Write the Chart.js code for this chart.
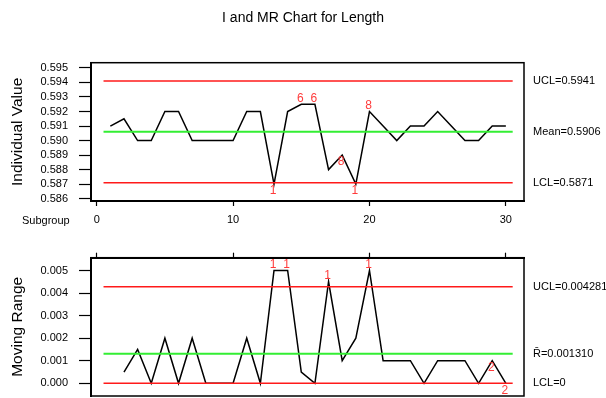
<!DOCTYPE html>
<html><head><meta charset="utf-8">
<script src="https://cdn.jsdelivr.net/npm/chart.js@4/dist/chart.umd.min.js"></script>
<style>
html,body{margin:0;padding:0;background:#fff;}
#wrap{position:relative;width:606px;height:398px;background:#fff;}
canvas{position:absolute;left:0;top:0;}
</style></head><body>
<div id="wrap"><canvas id="c1" width="606" height="398"></canvas><canvas id="c2" width="606" height="398"></canvas></div>
<script>
// ---- data ----
const subgroups = [1,2,3,4,5,6,7,8,9,10,11,12,13,14,15,16,17,18,19,20,21,22,23,24,25,26,27,28,29,30];
const individualValues = [0.5910,0.5915,0.5900,0.5900,0.5920,0.5920,0.5900,0.5900,0.5900,0.5900,
                          0.5920,0.5920,0.5870,0.5920,0.5925,0.5925,0.5880,0.5890,0.5870,0.5920,
                          0.5910,0.5900,0.5910,0.5910,0.5920,0.5910,0.5900,0.5900,0.5910,0.5910];
const movingRanges = [null,0.0005,0.0015,0,0.002,0,0.002,0,0,0,
                      0.002,0,0.005,0.005,0.0005,0,0.0045,0.001,0.002,0.005,
                      0.001,0.001,0.001,0,0.001,0.001,0.001,0,0.001,0];
const iLimitValues = [0.5941, 0.5906, 0.5871];
const iLimitLabels = ['UCL=0.5941', 'Mean=0.5906', 'LCL=0.5871'];
const mrLimitValues = [0.004281, 0.001310, 0];
const mrLimitLabels = ['UCL=0.004281', 'R\u0304=0.001310', 'LCL=0'];
const limitSpan = [0.5, 30.5];
const iTicks = [0.586,0.587,0.588,0.589,0.590,0.591,0.592,0.593,0.594,0.595];
const mrTicks = [0,0.001,0.002,0.003,0.004,0.005];
const subgroupTicks = [0,10,20,30];
const iFlagSubgroups = [13,15,16,18,19,20];
const iFlagTexts = ['1','6','6','8','1','8'];
const iFlagSides = ['below','above','above','below','below','above'];
const mrFlagSubgroups = [13,14,17,20,29,30];
const mrFlagTexts = ['1','1','1','1','2','2'];
const mrFlagSides = ['above','above','above','above','below','below'];

// ---- styling ----
const FONT = "'Liberation Sans', Arial, sans-serif";
const RED = '#ff1a1a', GREEN = '#33ee33', FLAG = '#ff3b3b';
const limitColors = [RED, GREEN, RED];

function limitDatasets(vals){
  return vals.map((v,i)=>({
    data: limitSpan.map(x=>({x:x, y:v})),
    showLine:true, borderColor:limitColors[i], borderWidth:(i===1?2:1.6), pointRadius:0
  }));
}
function seriesData(vals){
  return subgroups.map((s,i)=>({x:s, y:vals[i]})).filter(p=>p.y!==null);
}
function explicitTicks(list){ return s => { s.ticks = list.map(v=>({value:v})); }; }
function zeroPad(s){ s.paddingTop=0; s.paddingBottom=0; s.paddingLeft=0; s.paddingRight=0; }

function deco(vals, limVals, limLabels, fIdx, fTxt, fSide, extra){
  return { id:'deco', afterDraw(chart){
    const {ctx, chartArea:a} = chart; const x = chart.scales.x, y = chart.scales.y;
    ctx.save();
    ctx.strokeStyle = '#000'; ctx.lineWidth = 1.5;
    ctx.strokeRect(a.left, a.top, a.right-a.left, a.bottom-a.top);
    ctx.fillStyle = '#000'; ctx.font = '11px ' + FONT; ctx.textAlign = 'left'; ctx.textBaseline = 'middle';
    limVals.forEach((v,i)=> ctx.fillText(limLabels[i], a.right + 9, y.getPixelForValue(v)));
    ctx.fillStyle = FLAG; ctx.font = '12px ' + FONT; ctx.textAlign = 'center';
    fIdx.forEach((n,i)=>{
      const px = x.getPixelForValue(n) - 1;
      const py = y.getPixelForValue(vals[n-1]) + (fSide[i]==='above' ? -6 : 7);
      ctx.fillText(fTxt[i], px, py);
    });
    if (extra) extra(ctx, a);
    ctx.restore();
  }};
}

function baseScales(yMin, yMax, yTicks, yTitle, xPos){
  return {
    x: { type:'linear', position:xPos, min:-0.418, max:31.33,
         afterBuildTicks: explicitTicks(subgroupTicks),
         grid:{drawOnChartArea:false, drawTicks:true, tickLength:5, tickColor:'#000', tickWidth:1.2},
         border:{display:true, color:'#000', width:2},
         ticks:{display: xPos==='bottom', font:{family:FONT, size:11}, color:'#000', padding:7, maxRotation:0, autoSkip:false}
    },
    y: { type:'linear', min:yMin, max:yMax,
         afterBuildTicks: explicitTicks(yTicks),
         afterFit: s=>{ s.width = 91; zeroPad(s); },
         grid:{drawOnChartArea:false, drawTicks:true, tickLength:12, tickColor:'#000', tickWidth:1.2},
         border:{display:true, color:'#000', width:2},
         ticks:{font:{family:FONT, size:11}, color:'#000', padding:11, autoSkip:false, callback:v=>Number(v).toFixed(3)},
         title:{display:true, text:yTitle, font:{family:FONT, size:15.5}, color:'#000', padding:{top:8, bottom:0}}
    }
  };
}

// ---- Individual chart ----
const s1 = baseScales(0.58584, 0.59536, iTicks, 'Individual Value', 'bottom');
s1.x.afterFit = s=>{ s.height = 197; zeroPad(s); };
new Chart(document.getElementById('c1'), {
  type:'scatter',
  data:{ datasets: limitDatasets(iLimitValues).concat([{
    data: seriesData(individualValues), showLine:true, borderColor:'#000', borderWidth:1.5, pointRadius:0 }]) },
  options:{ responsive:false, animation:false, devicePixelRatio:1,
    layout:{padding:{left:0, top:62.7, right:82, bottom:0}},
    plugins:{legend:{display:false}, tooltip:{enabled:false}},
    scales:s1 },
  plugins:[deco(individualValues, iLimitValues, iLimitLabels, iFlagSubgroups, iFlagTexts, iFlagSides, (ctx,a)=>{
    ctx.fillStyle = '#000'; ctx.textAlign = 'center'; ctx.font = '14px ' + FONT;
    ctx.fillText('I and MR Chart for Length', 303, 18);
    ctx.textAlign = 'left'; ctx.font = '11px ' + FONT;
    ctx.fillText('Subgroup', 22, 221);
  })]
});

// ---- Moving range chart ----
const s2 = baseScales(-0.000563, 0.005567, mrTicks, 'Moving Range', 'top');
s2.x.afterFit = s=>{ s.height = 5; zeroPad(s); };
new Chart(document.getElementById('c2'), {
  type:'scatter',
  data:{ datasets: limitDatasets(mrLimitValues).concat([{
    data: seriesData(movingRanges), showLine:true, borderColor:'#000', borderWidth:1.5, pointRadius:0 }]) },
  options:{ responsive:false, animation:false, devicePixelRatio:1,
    layout:{padding:{left:0, top:252.7, right:82, bottom:2}},
    plugins:{legend:{display:false}, tooltip:{enabled:false}},
    scales:s2 },
  plugins:[deco(movingRanges, mrLimitValues, mrLimitLabels, mrFlagSubgroups, mrFlagTexts, mrFlagSides)]
});
</script>
</body></html>
